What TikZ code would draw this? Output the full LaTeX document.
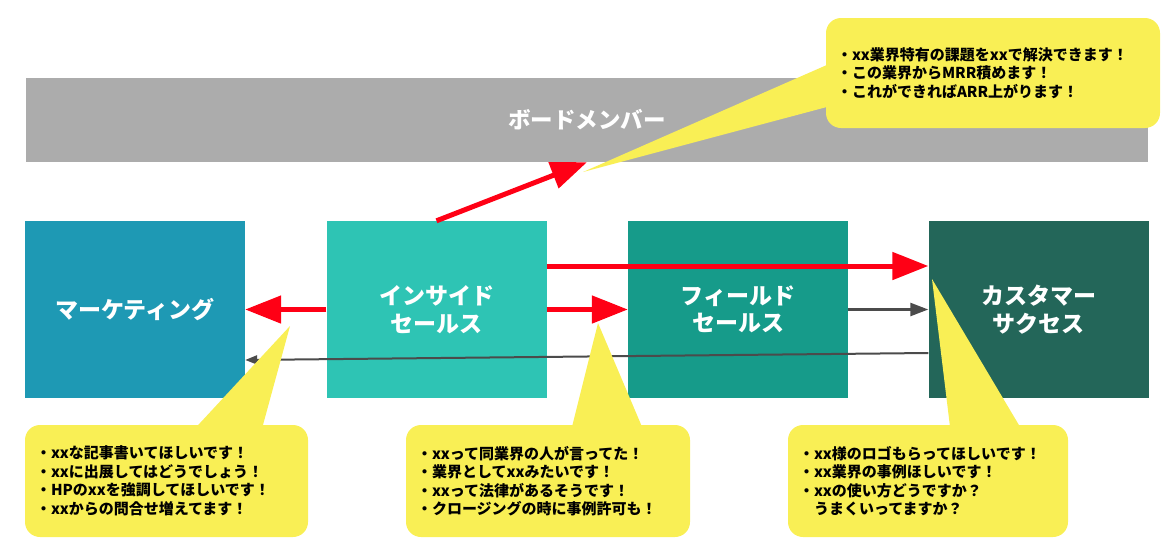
\documentclass[tikz,border=0pt]{standalone}
\usepackage{fontspec}
\usepackage{xcolor}
\usepackage{tikz}
\usetikzlibrary{arrows.meta}

\newfontfamily\jpfont{Noto Sans CJK JP}

\definecolor{boardgray}{HTML}{ACACAC}
\definecolor{mktblue}{HTML}{1E99B4}
\definecolor{insteal}{HTML}{2EC4B4}
\definecolor{fldteal}{HTML}{169B8A}
\definecolor{csgreen}{HTML}{236659}
\definecolor{memo}{HTML}{F9EF55}
\definecolor{alert}{HTML}{FF0015}
\definecolor{linegray}{HTML}{4B4B4B}

\begin{document}
\begin{tikzpicture}[x=1pt, y=-1pt,
    box/.style={minimum width=220pt, minimum height=177pt, inner sep=0pt, text=white, align=center, font=\jpfont\bfseries\fontsize{23}{27.5}\selectfont},
    callout/.style={fill=memo, rounded corners=15pt, inner xsep=11pt, inner ysep=0pt, align=left, minimum height=112pt, font=\jpfont\bfseries\fontsize{15}{18.5}\selectfont},
    redarrow/.style={draw=alert, line width=5pt, -{Triangle[length=36pt, width=27pt]}},
    grayarrow/.style={draw=linegray, line width=2.5pt, -{Triangle[length=18pt, width=13pt]}},
    thinarrow/.style={draw=linegray, line width=2pt, -{Triangle[length=12pt, width=9pt]}}]
        \useasboundingbox (0,0) rectangle (1173,552);

        % Board
        \node[fill=boardgray, minimum width=1122pt, minimum height=84pt, inner sep=0pt, text=white, font=\jpfont\bfseries\fontsize{22.5}{28}\selectfont] (board) at (587,120) {ボードメンバー};

        % Teams
        \node[box, fill=mktblue] (mkt) at (135,309.5) {マーケティング};
        \node[box, fill=insteal] (ins) at (436.5,309.5) {インサイド\\セールス};
        \node[box, fill=fldteal] (fld) at (738,309.5) {フィールド\\セールス};
        \node[box, fill=csgreen] (cs) at (1038.5,309.5) {カスタマー\\サクセス};

        % Hand-offs
        \draw[grayarrow] (fld.east) -- (cs.west);
        \draw[thinarrow] ([yshift=-43.5pt]cs.west) -- ([yshift=-50.5pt]mkt.east);

        % Callouts
        \coordinate (tipBoard) at (583,172);
        \coordinate (tipMkt) at (290,326);
        \coordinate (tipFld) at (598,323);
        \coordinate (tipCs) at (932,279);

        \node[callout, text width=312pt, minimum height=110pt] (callBoard) at (993,73) {・xx業界特有の課題をxxで解決できます！\\・この業界からMRR積めます！\\・これができればARR上がります！};
        \fill[memo] (tipBoard) -- ([xshift=1pt, yshift=8pt]callBoard.west) -- ([xshift=1pt, yshift=-34pt]callBoard.west) -- cycle;

        \node[callout, text width=261pt] (callMkt) at (166.5,481) {・xxな記事書いてほしいです！\\・xxに出展してはどうでしょう！\\・HPのxxを強調してほしいです！\\・xxからの問合せ増えてます！};
        \fill[memo] (tipMkt) -- ([xshift=30pt, yshift=-2pt]callMkt.north) -- ([xshift=96pt, yshift=-2pt]callMkt.north) -- cycle;

        \node[callout, text width=262pt] (callFld) at (548,481) {・xxって同業界の人が言ってた！\\・業界としてxxみたいです！\\・xxって法律があるそうです！\\・クロージングの時に事例許可も！};
        \fill[memo] (tipFld) -- ([xshift=24pt, yshift=-2pt]callFld.north) -- ([xshift=94pt, yshift=-2pt]callFld.north) -- cycle;

        \node[callout, text width=258pt] (callCs) at (928,481) {・xx様のロゴもらってほしいです！\\・xx業界の事例ほしいです！\\・xxの使い方どうですか？\\\hspace*{1em}うまくいってますか？};
        \fill[memo] (tipCs) -- ([xshift=22pt, yshift=-2pt]callCs.north) -- ([xshift=92pt, yshift=-2pt]callCs.north) -- cycle;

        % Requests from inside sales
        \draw[redarrow] (ins.north) -- (board.south);
        \draw[redarrow] ([yshift=43.5pt]ins.east) -- ([yshift=43.5pt]cs.west);
        \draw[redarrow] (ins.west) -- (mkt.east);
        \draw[redarrow] (ins.east) -- (fld.west);
    \end{tikzpicture}
\end{document}
